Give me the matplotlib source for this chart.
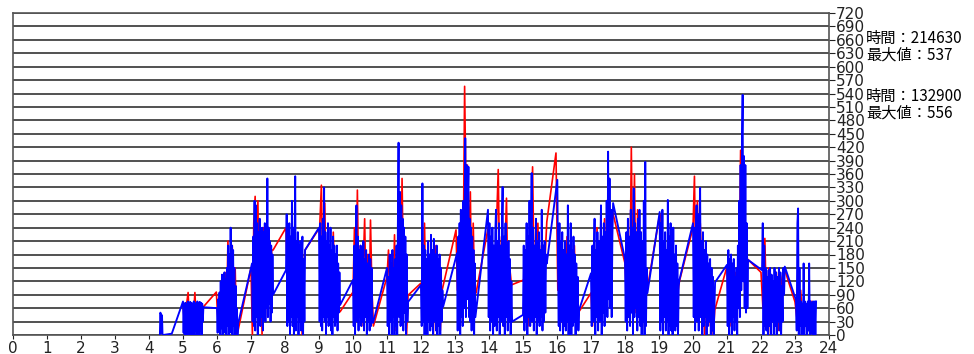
import numpy as np
import matplotlib
matplotlib.use("Agg")
import matplotlib.pyplot as plt

plt.rcParams['path.simplify'] = False

# x positions are HH.MM (hour + minute/100), as the source chart plots them
# each block: (first x, last x, readings sampled evenly between them)
blue_blocks = [
    (4.32, 4.41, [0, 50, 48, 5, 45, 40, 2, 0]),
    (4.67, 4.67, [3]),
    (5.00, 5.60, [75, 5, 70, 0, 72, 10, 68, 0, 75, 5, 70, 0, 74, 8, 72, 0, 70, 5,
                  75, 0, 68, 10, 72, 0, 75, 5, 70, 0, 74, 10, 72, 0, 70, 30, 62]),
    (6.00, 6.62, [60, 5, 80, 10, 95, 0, 120, 15, 135, 0, 110, 20, 140, 5, 125, 0, 150, 20,
                  200, 0, 180, 10, 240, 5, 200, 0, 190, 20, 150, 0, 110, 10, 60, 0, 25]),
    (7.03, 7.65, [160, 30, 220, 20, 300, 10, 290, 40, 250, 0, 230, 30, 260, 20, 210, 40, 240,
                  10, 230, 50, 250, 30, 220, 60, 350, 40, 240, 70, 210, 30, 200, 50, 180, 90]),
    (8.03, 8.59, [145, 270, 20, 200, 30, 250, 0, 220, 40, 300, 20, 240, 0, 210, 355,
                  10, 210, 40, 230, 0, 200, 30, 210, 10, 180, 220, 0, 170, 30, 190]),
    (9.00, 9.62, [240, 30, 250, 20, 220, 10, 260, 40, 330, 30, 230, 0, 210, 40, 250, 20, 200,
                  30, 240, 10, 190, 0, 220, 40, 200, 20, 180, 30, 200, 10, 160, 50, 140, 67]),
    (10.00, 10.59, [123, 20, 200, 0, 180, 290, 30, 220, 10, 190, 40, 200, 20, 180, 30,
                    210, 10, 170, 40, 190, 0, 160, 30, 180, 10, 170, 20, 150, 30, 27]),
    (11.00, 11.62, [150, 20, 130, 0, 180, 30, 160, 0, 190, 40, 150, 0, 170, 20, 200, 0,
                    250, 430, 40, 320, 20, 290, 30, 260, 10, 240, 50, 220, 0, 180, 30, 74]),
    (12.00, 12.65, [112, 20, 339, 30, 200, 0, 190, 20, 170, 0, 210, 30, 180, 10, 224, 20,
                    190, 0, 215, 30, 180, 10, 200, 0, 170, 20, 180, 0, 150, 30, 100, 63]),
    (13.06, 13.60, [183, 10, 220, 30, 250, 0, 280, 40, 230, 20, 300, 60, 280, 440, 40,
                    380, 80, 300, 376, 40, 260, 30, 240, 10, 220, 20, 190, 0, 160, 40]),
    (13.97, 14.68, [280, 40, 250, 10, 220, 30, 240, 0, 200, 20, 230, 280, 10, 210, 40, 250, 0,
                    200, 30, 240, 331, 20, 220, 0, 250, 40, 200, 10, 210, 30, 170, 0, 120, 30]),
    (15.00, 15.70, [45, 200, 10, 190, 30, 250, 0, 220, 40, 300, 20, 210, 362, 30, 240, 10, 200,
                    40, 260, 0, 210, 30, 230, 20, 190, 40, 280, 10, 200, 30, 210, 50, 180, 160]),
    (16.01, 16.65, [347, 150, 20, 250, 10, 210, 30, 230, 0, 190, 20, 210, 10, 180, 30, 290,
                    0, 200, 40, 250, 0, 190, 20, 220, 30, 180, 0, 160, 20, 130, 10, 56]),
    (17.00, 17.65, [138, 20, 200, 30, 170, 260, 0, 190, 40, 230, 10, 210, 30, 180, 290, 0,
                    220, 50, 250, 20, 230, 60, 300, 40, 410, 80, 350, 60, 280, 40, 220, 295]),
    (18.00, 18.66, [170, 30, 230, 10, 260, 40, 220, 20, 280, 50, 240, 0, 328, 40, 250, 60,
                    230, 10, 260, 40, 280, 20, 230, 0, 210, 30, 300, 0, 387, 20, 150, 94]),
    (19.02, 19.60, [275, 10, 250, 30, 280, 0, 210, 40, 230, 10, 190, 30, 302, 0, 220,
                    20, 250, 10, 200, 0, 240, 30, 180, 10, 200, 20, 160, 0, 110, 123]),
    (20.00, 20.65, [250, 40, 240, 10, 220, 290, 30, 270, 10, 250, 329, 40, 210, 0, 230, 20,
                    190, 40, 210, 0, 180, 20, 160, 30, 170, 0, 150, 10, 130, 0, 60, 118]),
    (21.00, 21.62, [157, 20, 190, 0, 170, 30, 180, 0, 160, 40, 170, 10, 130, 30, 150, 0,
                    200, 60, 300, 40, 380, 100, 430, 537, 120, 400, 60, 380, 50, 250, 60, 168]),
    (22.03, 22.70, [145, 250, 0, 200, 20, 150, 10, 130, 0, 145, 20, 150, 0, 135, 30, 120,
                    0, 150, 20, 140, 0, 130, 30, 150, 10, 140, 0, 110, 30, 150, 90, 153]),
    (23.03, 23.62, [78, 10, 250, 283, 0, 150, 20, 75, 0, 70, 10, 160, 0, 75, 20, 70,
                    0, 75, 10, 160, 0, 75, 5, 70, 0, 75, 10, 75, 0, 75]),
]

red_blocks = [
    (5.00, 5.60, [70, 20, 65, 95, 10, 60, 30, 95, 15, 70, 40, 60, 63]),
    (5.98, 6.62, [96, 40, 80, 20, 120, 60, 140, 30, 210, 50, 120, 200, 20, 150, 0, 10]),
    (7.00, 7.65, [150, 0, 250, 310, 120, 300, 30, 200, 0, 240, 90, 180, 40, 220, 80, 190, 190]),
    (8.03, 8.59, [240, 100, 200, 40, 150, 180, 20, 120, 200, 60, 180, 0, 150, 190]),
    (9.02, 9.62, [240, 335, 90, 295, 50, 200, 150, 30, 230, 100, 180, 60, 52]),
    (10.00, 10.60, [96, 240, 50, 324, 80, 200, 20, 150, 260, 60, 180, 30, 257, 100, 20]),
    (11.00, 11.62, [130, 190, 40, 160, 80, 224, 10, 150, 230, 60, 350, 100, 200, 0, 89]),
    (12.00, 12.62, [116, 60, 250, 20, 150, 90, 180, 0, 200, 50, 160, 10, 100]),
    (13.03, 13.62, [235, 100, 200, 20, 250, 150, 556, 300, 380, 200, 320, 60, 250, 100, 94]),
    (13.98, 14.66, [242, 80, 200, 30, 150, 250, 370, 100, 220, 20, 180, 306, 60, 150, 112]),
    (15.02, 15.70, [123, 60, 180, 20, 200, 376, 100, 150, 250, 40, 200, 80, 170, 253]),
    (15.97, 16.62, [407, 100, 200, 30, 180, 60, 220, 0, 150, 90, 200, 20, 49]),
    (17.00, 17.62, [94, 20, 180, 60, 240, 100, 30, 200, 150, 260, 90, 300, 320, 150, 280]),
    (18.00, 18.65, [160, 80, 200, 60, 420, 100, 360, 50, 280, 150, 230, 20, 200, 90, 100]),
    (19.00, 19.60, [260, 270, 50, 200, 100, 230, 20, 180, 60, 150, 90, 120]),
    (20.00, 20.64, [240, 355, 100, 300, 40, 250, 150, 200, 0, 180, 60, 150, 20, 100, 0, 56]),
    (21.00, 21.60, [153, 60, 150, 20, 130, 90, 140, 30, 80, 120, 413, 250, 300, 100, 200, 170]),
    (22.00, 22.68, [140, 60, 216, 20, 150, 0, 120, 40, 140, 10, 100, 130, 150]),
    (23.00, 23.50, [74, 20, 100, 0, 60, 10, 75]),
]

y_ticks = list(range(0, 721, 30))
x_ticks = list(range(0, 25))
notes = ["時間：214630\n最大値：537", "時間：132900\n最大値：556"]


def build(blocks):
    xs, ys = [], []
    for start, end, vals in blocks:
        xs.extend(np.linspace(start, end, len(vals)))
        ys.extend(vals)
    return np.array(xs), np.array(ys)


fig = plt.figure(figsize=(9.74, 3.54), dpi=100)
ax = fig.add_axes([13 / 974, 19 / 354, 816 / 974, 322 / 354])

rx, ry = build(red_blocks)
bx, by = build(blue_blocks)
ax.plot(rx, ry, color='#ff0000', lw=1.2, zorder=3)
ax.plot(bx, by, color='#0000ff', lw=1.35, zorder=4)

ax.set_xlim(0, 24)
ax.set_ylim(0, 720)
ax.yaxis.tick_right()
ax.set_yticks(y_ticks)
ax.set_xticks(x_ticks)
ax.tick_params(axis='y', direction='out', length=4, pad=1, labelsize=11, colors='#222222')
ax.tick_params(axis='x', direction='out', length=3, pad=1, labelsize=11, colors='#222222')
ax.grid(axis='y', color='#222222', lw=1.1, zorder=1)
for s in ax.spines.values():
    s.set_color('#555555')
    s.set_linewidth(1.2)

jp = ['Noto Sans CJK JP', 'DejaVu Sans']
fig.text(866 / 974, 1 - 47 / 354, notes[0], fontsize=11, family=jp, va='center',
         linespacing=0.95)
fig.text(866 / 974, 1 - 105 / 354, notes[1], fontsize=11, family=jp, va='center',
         linespacing=0.95)

fig.savefig('out.png', dpi=100)
